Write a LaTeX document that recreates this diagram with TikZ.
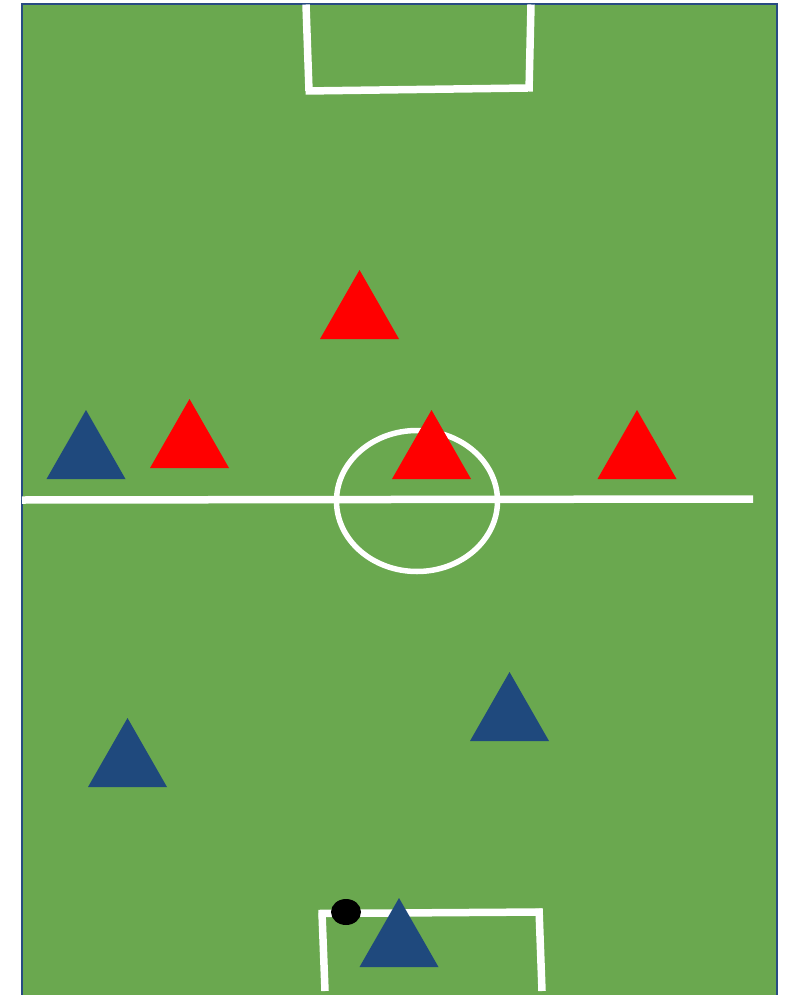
\documentclass[tikz,border=0pt]{standalone}
\definecolor{fieldgreen}{RGB}{106,168,79}
\definecolor{teamblue}{RGB}{31,73,125}
\definecolor{teamred}{RGB}{255,0,0}
\definecolor{edgeblue}{RGB}{40,75,130}
\tikzset{
  pitchline/.style={draw=white,line width=7.5pt},
  redplayer/.style={fill=teamred},
  blueplayer/.style={fill=teamblue},
}
\newcommand{\player}[3]{\fill[#1] (#2-39.5,#3+69) -- (#2,#3) -- (#2+39.5,#3+69) -- cycle;}
\begin{document}
\begin{tikzpicture}[x=1pt,y=-1pt]
\useasboundingbox (0,0) rectangle (792,995);
\fill[white] (0,0) rectangle (792,995);
% field
\fill[fieldgreen] (22,4.5) rectangle (776.5,995);
\draw[edgeblue,line width=2pt] (22,995) -- (22,4.5) -- (776.5,4.5) -- (776.5,995);
% top goal area
\draw[pitchline] (306,4.5) -- (309,91);
\draw[pitchline] (305.5,91) -- (528,88);
\draw[pitchline] (531,4.5) -- (529,91.5);
% bottom goal area
\draw[pitchline] (322,913) -- (325,991);
\draw[pitchline] (318.5,913.5) -- (542,912);
\draw[pitchline] (539,908.5) -- (542,991);
% halfway line and centre circle
\draw[pitchline] (22,500) -- (753,499);
\draw[draw=white,line width=5.5pt] (417,501) ellipse [x radius=80.5, y radius=70.5];
% players
\player{redplayer}{359.5}{270}
\player{redplayer}{189.5}{399}
\player{redplayer}{431.5}{410}
\player{redplayer}{637}{410}
\player{blueplayer}{86}{410}
\player{blueplayer}{509.5}{672}
\player{blueplayer}{127.5}{718}
\player{blueplayer}{399}{898}
% ball
\fill[black] (346,912) ellipse [x radius=15, y radius=13];
\end{tikzpicture}
\end{document}
